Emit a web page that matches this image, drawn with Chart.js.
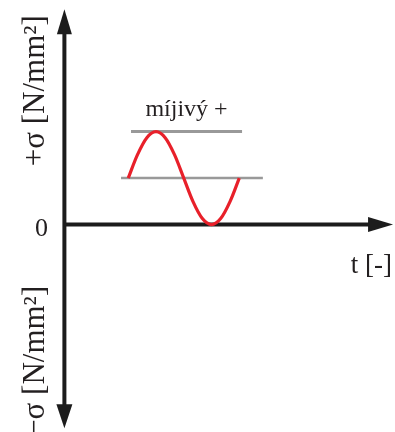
<!DOCTYPE html>
<html>
<head>
<meta charset="utf-8">
<script src="https://cdn.jsdelivr.net/npm/chart.js@4/dist/chart.umd.min.js"></script>
<style>
  html, body { margin: 0; padding: 0; background: #ffffff; }
  #wrap { width: 395px; height: 432px; }
</style>
</head>
<body>
<div id="wrap"><canvas id="c" width="395" height="432"></canvas></div>
<script>
// ---- data (time in quarter-periods, stress in units of amplitude) ----
const waveTime   = [2.3, 2.63, 2.97, 3.3, 3.63, 3.97, 4.3, 4.63, 4.97, 5.3, 5.63, 5.97, 6.3];
const waveStress = [1, 1.5, 1.87, 2, 1.87, 1.5, 1, 0.5, 0.13, 0, 0.13, 0.5, 1];
const maxLineTime   = [2.4, 6.4];
const maxLineStress = [2, 2];
const meanLineTime   = [2.04, 7.15];
const meanLineStress = [1, 1];

const xRange = [-2.32, 11.91];
const yRange = [-4.46, 4.83];
const axisEnds = { tEnd: 11.84, sTop: 4.63, sBottom: -4.38 };

const labels = {
  zero: "0",
  time: "t [-]",
  plusSigma: "+σ [N/mm²]",
  minusSigma: "−σ [N/mm²]",
  cycle: "míjivý +"
};

const toPts = (xs, ys) => xs.map((x, i) => ({ x: x, y: ys[i] }));

const AXIS = '#1c1c1c';
const TEXT = '#231f20';
const SERIF = '"Liberation Serif", "DejaVu Serif", serif';

const decorPlugin = {
  id: 'decor',
  beforeDatasetsDraw(chart) {
    const ctx = chart.ctx;
    const xs = chart.scales.x, ys = chart.scales.y;
    const x0 = xs.getPixelForValue(0);
    const y0 = ys.getPixelForValue(0);
    const xEnd = xs.getPixelForValue(axisEnds.tEnd);
    const yTop = ys.getPixelForValue(axisEnds.sTop);
    const yBot = ys.getPixelForValue(axisEnds.sBottom);
    ctx.save();
    ctx.strokeStyle = AXIS;
    ctx.fillStyle = AXIS;
    ctx.lineWidth = 4;
    ctx.beginPath();
    ctx.moveTo(x0, yTop + 20);
    ctx.lineTo(x0, yBot - 20);
    ctx.stroke();
    ctx.beginPath();
    ctx.moveTo(x0, y0);
    ctx.lineTo(xEnd - 20, y0);
    ctx.stroke();
    ctx.beginPath();
    ctx.moveTo(x0, yTop);
    ctx.lineTo(x0 - 7.5, yTop + 25);
    ctx.lineTo(x0 + 7.5, yTop + 25);
    ctx.closePath();
    ctx.fill();
    ctx.beginPath();
    ctx.moveTo(x0, yBot);
    ctx.lineTo(x0 - 8, yBot - 24);
    ctx.lineTo(x0 + 8, yBot - 24);
    ctx.closePath();
    ctx.fill();
    ctx.beginPath();
    ctx.moveTo(xEnd, y0);
    ctx.lineTo(xEnd - 25, y0 - 7.5);
    ctx.lineTo(xEnd - 25, y0 + 7.5);
    ctx.closePath();
    ctx.fill();
    ctx.restore();
  },
  afterDatasetsDraw(chart) {
    const ctx = chart.ctx;
    const xs = chart.scales.x, ys = chart.scales.y;
    const x0 = xs.getPixelForValue(0);
    const y0 = ys.getPixelForValue(0);
    const xEnd = xs.getPixelForValue(axisEnds.tEnd);
    ctx.save();
    ctx.fillStyle = TEXT;
    ctx.font = '26px ' + SERIF;
    ctx.textAlign = 'center';
    ctx.textBaseline = 'alphabetic';
    ctx.fillText(labels.zero, x0 - 23, y0 + 11.5);
    ctx.font = '27px ' + SERIF;
    ctx.textAlign = 'right';
    ctx.fillText(labels.time, xEnd - 1, y0 + 48);
    ctx.font = '24px ' + SERIF;
    ctx.textAlign = 'center';
    const cx = (xs.getPixelForValue(maxLineTime[0]) + xs.getPixelForValue(maxLineTime[1])) / 2;
    ctx.fillText(labels.cycle, cx, ys.getPixelForValue(maxLineStress[0]) - 16);
    ctx.font = '31px ' + SERIF;
    ctx.textAlign = 'center';
    ctx.save();
    ctx.translate(x0 - 20.5, ys.getPixelForValue(2.88));
    ctx.rotate(-Math.PI / 2);
    ctx.fillText(labels.plusSigma, 0, 0);
    ctx.restore();
    ctx.save();
    ctx.translate(x0 - 20, ys.getPixelForValue(-2.94));
    ctx.rotate(-Math.PI / 2);
    ctx.fillText(labels.minusSigma, 0, 0);
    ctx.restore();
    ctx.restore();
  }
};

new Chart(document.getElementById('c'), {
  type: 'scatter',
  data: {
    datasets: [
      {
        data: toPts(waveTime, waveStress),
        showLine: true,
        borderColor: '#e8202a',
        borderWidth: 3.2,
        pointRadius: 0,
        cubicInterpolationMode: 'monotone',
        fill: false
      },
      {
        data: toPts(maxLineTime, maxLineStress),
        showLine: true,
        borderColor: '#999999',
        borderWidth: 3,
        pointRadius: 0
      },
      {
        data: toPts(meanLineTime, meanLineStress),
        showLine: true,
        borderColor: '#999999',
        borderWidth: 2.5,
        pointRadius: 0
      }
    ]
  },
  options: {
    responsive: false,
    animation: false,
    layout: { padding: 0 },
    plugins: { legend: { display: false }, tooltip: { enabled: false } },
    scales: {
      x: { type: 'linear', display: false, min: xRange[0], max: xRange[1] },
      y: { type: 'linear', display: false, min: yRange[0], max: yRange[1] }
    }
  },
  plugins: [decorPlugin]
});
</script>
</body>
</html>
